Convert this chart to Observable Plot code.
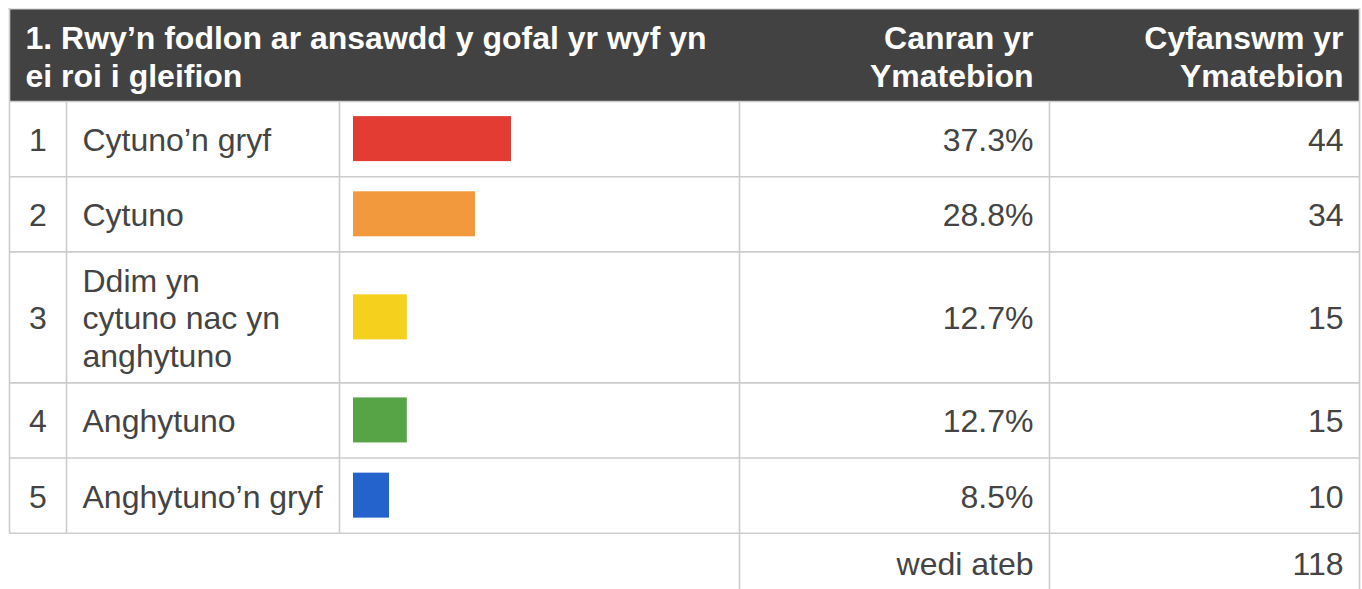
<!DOCTYPE html>
<html>
<head>
<meta charset="utf-8">
<script src="https://cdn.jsdelivr.net/npm/d3@7"></script>
<script src="https://cdn.jsdelivr.net/npm/@observablehq/plot@0.6"></script>
<style>
  html, body { margin: 0; padding: 0; background: #fff; }
  #chart svg { display: block; }
</style>
</head>
<body>
<div id="chart"></div>
<script>
// ---- data ----
const title = "1. Rwy’n fodlon ar ansawdd y gofal yr wyf yn\nei roi i gleifion";
const columnHeaders = ["Canran yr\nYmatebion", "Cyfanswm yr\nYmatebion"];
const rowNumbers = ["1", "2", "3", "4", "5"];
const answers = ["Cytuno’n gryf", "Cytuno", "Ddim yn\ncytuno nac yn\nanghytuno", "Anghytuno", "Anghytuno’n gryf"];
const percents = [37.3, 28.8, 12.7, 12.7, 8.5];
const counts = [44, 34, 15, 15, 10];
const barColors = ["#e33c33", "#f2993e", "#f5d01c", "#56a446", "#2462cc"];
const totalLabel = "wedi ateb";
const totalCount = 118;

// ---- layout ----
const W = 1362, H = 589;
const cols = [9, 66, 339, 739, 1049, 1359];
const pad = 16;
const headerTop = 9, headerBottom = 101;
const fontSize = 32;
const bodyLineHeight = 1.166;
const headerLineHeight = 1.19;
const barLeft = 353, barMaxW = 158, barH = 45;
const textColor = "#444444";
const gridColor = "#cccccc";
const font = "'Liberation Sans', Arial, Helvetica, sans-serif";

let cursor = headerBottom;
const rows = answers.map((a, i) => {
  const lines = a.split("\n").length;
  const h = lines > 1 ? lines * fontSize * bodyLineHeight + 19 : 75.2;
  const r = {num: rowNumbers[i], answer: a, pct: percents[i], count: counts[i],
             color: barColors[i], top: cursor, bottom: cursor + h, mid: cursor + h / 2};
  cursor += h;
  return r;
});
const tableBottom = cursor;
const footerMid = tableBottom + 30;
const headerMid = (headerTop + headerBottom) / 2;

const maxPct = d3.max(percents);
const k = barMaxW / maxPct;
const u = px => (px - barLeft) / k;   // pixel layout position -> x-scale units

const hLines = [...rows.map(r => r.top), tableBottom];
const vLines = [
  {x: cols[0], y1: headerTop - 1, y2: tableBottom},
  {x: cols[1], y1: headerBottom, y2: tableBottom},
  {x: cols[2], y1: headerBottom, y2: tableBottom},
  {x: cols[3], y1: headerBottom, y2: H},
  {x: cols[4], y1: headerBottom, y2: H},
  {x: cols[5], y1: headerTop - 1, y2: H}
];

const textBase = {fontSize, fontFamily: font, lineHeight: bodyLineHeight, dy: 0};
const headBase = {fontSize, fontFamily: font, fontWeight: "bold", fill: "#ffffff", lineHeight: headerLineHeight, dy: 0};

const chart = Plot.plot({
  width: W,
  height: H,
  margin: 0,
  x: {type: "linear", domain: [0, maxPct], range: [barLeft, barLeft + barMaxW], axis: null},
  y: {type: "identity", axis: null},
  color: {type: "identity"},
  style: {fontFamily: font, background: "#fff", overflow: "visible"},
  marks: [
    // header band
    Plot.rect([0], {x1: u(cols[0]), x2: u(cols[5]), y1: headerTop, y2: headerBottom, fill: "#424242"}),
    // grid
    Plot.ruleY([headerTop - 0.5], {x1: u(cols[0] - 1), x2: u(cols[5]), stroke: gridColor, strokeWidth: 1}),
    Plot.ruleY(hLines, {y: d => d, x1: u(cols[0]), x2: u(cols[5]), stroke: gridColor, strokeWidth: 1.6}),
    Plot.ruleX(vLines, {x: d => u(d.x), y1: "y1", y2: "y2", stroke: gridColor, strokeWidth: 1.6}),
    // bars
    Plot.rect(rows, {x1: 0, x2: "pct", y1: d => d.mid - barH / 2, y2: d => d.mid + barH / 2, fill: "color"}),
    // header texts
    Plot.text([title], {...headBase, x: u(cols[0] + pad), y: headerMid, text: d => d, textAnchor: "start"}),
    Plot.text([columnHeaders[0]], {...headBase, x: u(cols[4] - pad), y: headerMid, text: d => d, textAnchor: "end"}),
    Plot.text([columnHeaders[1]], {...headBase, x: u(cols[5] - pad), y: headerMid, text: d => d, textAnchor: "end"}),
    // body texts
    Plot.text(rows, {...textBase, x: u((cols[0] + cols[1]) / 2), y: "mid", text: "num", fill: textColor, textAnchor: "middle"}),
    Plot.text(rows, {...textBase, x: u(cols[1] + pad), y: "mid", text: "answer", fill: textColor, textAnchor: "start"}),
    Plot.text(rows, {...textBase, x: u(cols[4] - pad), y: "mid", text: d => d.pct.toFixed(1) + "%", fill: textColor, textAnchor: "end"}),
    Plot.text(rows, {...textBase, x: u(cols[5] - pad), y: "mid", text: d => String(d.count), fill: textColor, textAnchor: "end"}),
    // footer
    Plot.text([totalLabel], {...textBase, x: u(cols[4] - pad), y: footerMid, text: d => d, fill: textColor, textAnchor: "end"}),
    Plot.text([totalCount], {...textBase, x: u(cols[5] - pad), y: footerMid, text: d => String(d), fill: textColor, textAnchor: "end"})
  ]
});
document.getElementById("chart").appendChild(chart);
</script>
</body>
</html>
